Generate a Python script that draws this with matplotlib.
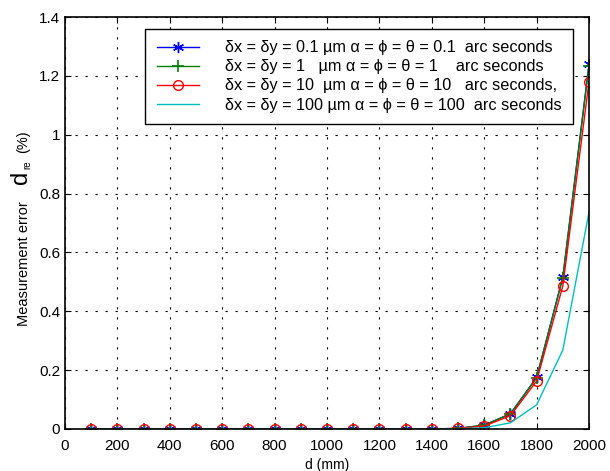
import matplotlib
matplotlib.use("Agg")
import matplotlib.pyplot as plt

plt.rcParams['font.family'] = ['Liberation Sans', 'DejaVu Sans']
plt.rcParams['mathtext.fontset'] = 'custom'
plt.rcParams['mathtext.rm'] = 'Liberation Sans'

d = [100, 200, 300, 400, 500, 600, 700, 800, 900, 1000,
     1100, 1200, 1300, 1400, 1500, 1600, 1700, 1800, 1900, 2000]
err_01 = [0, 0, 0, 0, 0, 0, 0, 0, 0, 0, 0, 0, 0, 0, 0.002, 0.013, 0.052, 0.175, 0.516, 1.24]
err_1 = [0, 0, 0, 0, 0, 0, 0, 0, 0, 0, 0, 0, 0, 0, 0.002, 0.013, 0.051, 0.174, 0.514, 1.235]
err_10 = [0, 0, 0, 0, 0, 0, 0, 0, 0, 0, 0, 0, 0, 0, 0.002, 0.010, 0.045, 0.163, 0.486, 1.18]
err_100 = [0, 0, 0, 0, 0, 0, 0, 0, 0, 0, 0, 0, 0, 0, 0.001, 0.004, 0.021, 0.082, 0.268, 0.737]

labels = [
    "δx = δy = 0.1 µm α = ϕ = θ = 0.1  arc seconds",
    "δx = δy = 1   µm α = ϕ = θ = 1    arc seconds",
    "δx = δy = 10  µm α = ϕ = θ = 10   arc seconds,",
    "δx = δy = 100 µm α = ϕ = θ = 100  arc seconds",
]
xticks = [0, 200, 400, 600, 800, 1000, 1200, 1400, 1600, 1800, 2000]
yticks = [0, 0.2, 0.4, 0.6, 0.8, 1.0, 1.2, 1.4]
yticklabels = ["0", "0.2", "0.4", "0.6", "0.8", "1", "1.2", "1.4"]

fig = plt.figure(figsize=(6.1, 4.71), dpi=100)
ax = fig.add_axes([0.1066, 0.0892, 0.859, 0.8747])

ax.plot(d, err_01, color='#0000ff', marker=(6, 2, 0), markersize=8, mew=1.0, lw=1.0, label=labels[0])
ax.plot(d, err_1, color='#008000', marker='+', markersize=8, mew=1.2, lw=1.0, label=labels[1])
ax.plot(d, err_10, color='#ff0000', marker='o', markersize=7, mfc='none', lw=1.0, label=labels[2])
ax.plot(d, err_100, color='#00bfbf', lw=1.0, label=labels[3])

ax.set_xlim(0, 2000)
ax.set_ylim(0, 1.4)
ax.set_xticks(xticks)
ax.set_xticklabels([str(t) for t in xticks])
ax.set_yticks(yticks)
ax.set_yticklabels(yticklabels)
ax.tick_params(direction='in', top=True, right=True, labelsize=11, length=4)
ax.tick_params(axis='x', pad=7)
ax.grid(True, color='black', linestyle=(0, (2, 7)), linewidth=0.8)
for s in ax.spines.values():
    s.set_linewidth(1.2)

ax.set_xlabel("d (mm)", fontsize=10, labelpad=4)

fig.text(0.039, 0.44, "Measurement error", rotation=90, fontsize=10.5, ha='center', va='center')
fig.text(0.035, 0.624, "d", rotation=90, fontsize=17, ha='center', va='center')
fig.text(0.045, 0.65, "re", rotation=90, fontsize=7, ha='center', va='center')
fig.text(0.038, 0.70, "(%)", rotation=90, fontsize=10.5, ha='center', va='center')

leg = ax.legend(loc='upper left', bbox_to_anchor=(0.153, 0.971), fontsize=11.7,
                frameon=True, fancybox=False, edgecolor='black', framealpha=1,
                handlelength=2.6, borderpad=0.7, labelspacing=0.25, handletextpad=1.6,
                borderaxespad=0)
leg.get_frame().set_linewidth(1.0)

fig.savefig("out.png", dpi=100)
